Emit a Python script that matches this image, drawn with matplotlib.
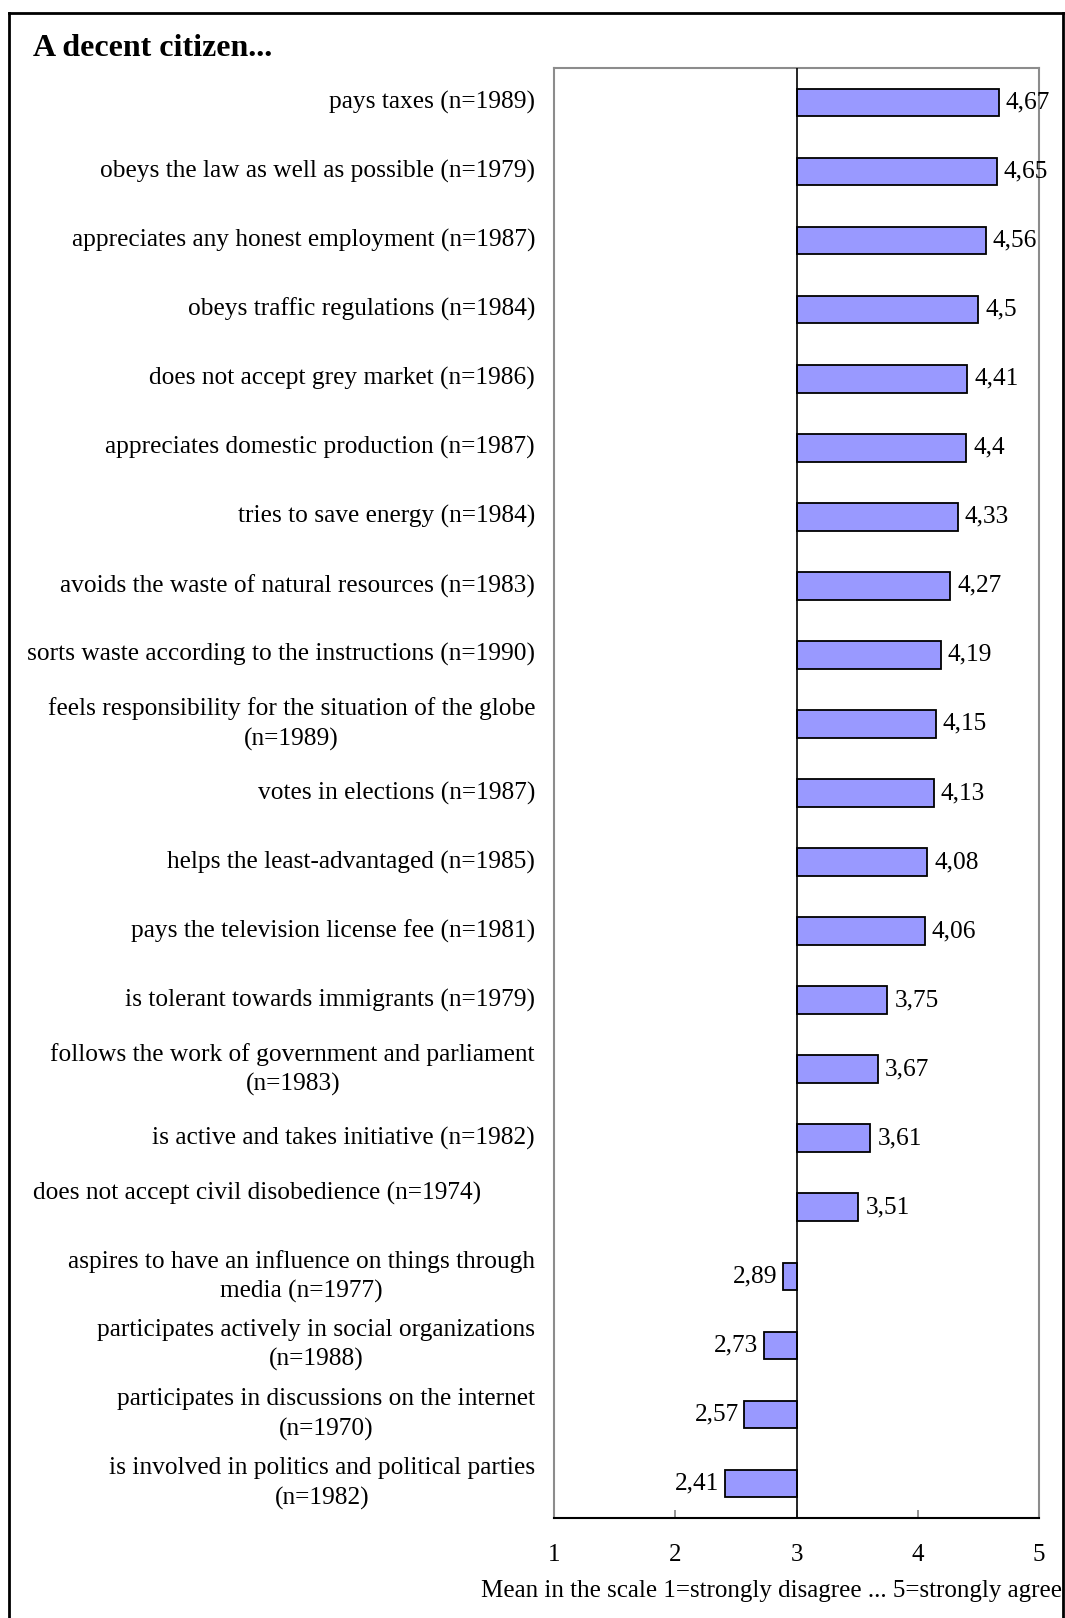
import matplotlib
matplotlib.use("Agg")
import matplotlib.pyplot as plt
import matplotlib.transforms as mtransforms
from matplotlib.lines import Line2D

plt.rcParams['font.family'] = ['Liberation Serif', 'DejaVu Serif']

title = "A decent citizen..."
categories = [
    "pays taxes (n=1989)",
    "obeys the law as well as possible (n=1979)",
    "appreciates any honest employment (n=1987)",
    "obeys traffic regulations (n=1984)",
    "does not accept grey market (n=1986)",
    "appreciates domestic production (n=1987)",
    "tries to save energy (n=1984)",
    "avoids the waste of natural resources (n=1983)",
    "sorts waste according to the instructions (n=1990)",
    "feels responsibility for the situation of the globe\n(n=1989)",
    "votes in elections (n=1987)",
    "helps the least-advantaged (n=1985)",
    "pays the television license fee (n=1981)",
    "is tolerant towards immigrants (n=1979)",
    "follows the work of government and parliament\n(n=1983)",
    "is active and takes initiative (n=1982)",
    "does not accept civil disobedience (n=1974)",
    "aspires to have an influence on things through\nmedia (n=1977)",
    "participates actively in social organizations\n(n=1988)",
    "participates in discussions on the internet\n(n=1970)",
    "is involved in politics and political parties\n(n=1982)",
]
values = [4.67, 4.65, 4.56, 4.5, 4.41, 4.4, 4.33, 4.27, 4.19, 4.15, 4.13,
          4.08, 4.06, 3.75, 3.67, 3.61, 3.51, 2.89, 2.73, 2.57, 2.41]
value_labels = ["4,67", "4,65", "4,56", "4,5", "4,41", "4,4", "4,33", "4,27",
                "4,19", "4,15", "4,13", "4,08", "4,06", "3,75", "3,67", "3,61",
                "3,51", "2,89", "2,73", "2,57", "2,41"]
xticks = [1, 2, 3, 4, 5]
xlabel = "Mean in the scale 1=strongly disagree ... 5=strongly agree"
baseline = 3

W, H = 1065, 1618
fig = plt.figure(figsize=(W / 100, H / 100), dpi=100)

ax_left, ax_right, ax_top, ax_bottom = 554, 1039, 68, 1518
ax = fig.add_axes([ax_left / W, 1 - ax_bottom / H,
                   (ax_right - ax_left) / W, (ax_bottom - ax_top) / H])

FS = 18.3

n = len(categories)
ypos = list(range(n))
widths = [v - baseline for v in values]
ax.barh(ypos, widths, left=baseline, height=0.4, color='#9999FF',
        edgecolor='black', linewidth=1.3, zorder=3)
ax.axvline(baseline, color='black', linewidth=1.2, zorder=4)

ax.set_xlim(1, 5)
ax.set_ylim(n - 0.5, -0.5)
ax.set_yticks([])
ax.set_xticks(xticks)
ax.set_xticklabels([str(t) for t in xticks], fontsize=18)
ax.tick_params(axis='x', direction='in', length=6, width=1.2, color='#808080',
               pad=19)

for side in ['left', 'top', 'right']:
    ax.spines[side].set_color('#8c8c8c')
    ax.spines[side].set_linewidth(1.5)
ax.spines['bottom'].set_color('black')
ax.spines['bottom'].set_linewidth(1.5)

# value labels
for y, v, lab in zip(ypos, values, value_labels):
    if v >= baseline:
        ax.annotate(lab, (v, y), xytext=(5, 0), textcoords='offset points',
                    ha='left', va='center', fontsize=FS, zorder=5)
    else:
        ax.annotate(lab, (v, y), xytext=(-4, 0), textcoords='offset points',
                    ha='right', va='center', fontsize=FS, zorder=5)

# category labels
trans = mtransforms.blended_transform_factory(fig.transFigure, ax.transData)
for y, cat in zip(ypos, categories):
    if cat.startswith("does not accept civil"):
        ax.text(33 / W, y - 0.2, cat, transform=trans, ha='left', va='center',
                fontsize=FS)
    else:
        ax.text(535 / W, y, cat, transform=trans, ha='right', va='center',
                multialignment='center', fontsize=FS, linespacing=1.4)

fig.text(33 / W, 1 - 48 / H, title, fontsize=23, fontweight='bold',
         ha='left', va='center')
fig.text(1062 / W, 1 - 1591 / H, xlabel, fontsize=18, ha='right', va='center')

# outer frame
lw = 2
fig.add_artist(Line2D([8.5 / W, 8.5 / W], [0, 1 - 12.7 / H], transform=fig.transFigure,
                      color='black', linewidth=lw))
fig.add_artist(Line2D([8.5 / W, 1062.5 / W], [1 - 12.7 / H, 1 - 12.7 / H],
                      transform=fig.transFigure, color='black', linewidth=lw))
fig.add_artist(Line2D([1062.5 / W, 1062.5 / W], [0, 1 - 12.7 / H],
                      transform=fig.transFigure, color='black', linewidth=lw))

fig.savefig("out.png", dpi=100)
